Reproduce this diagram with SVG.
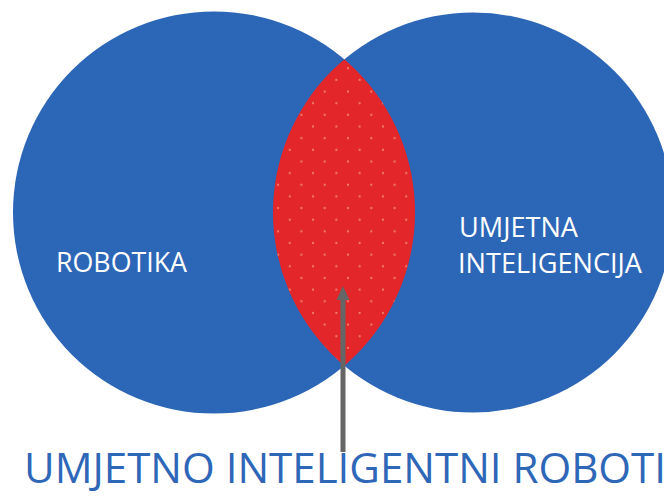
<svg xmlns="http://www.w3.org/2000/svg" width="664" height="497" viewBox="0 0 664 497">
  <style>
    .set { fill: #2c66b6; }
    .lbl { font-family: "Open Sans", "Liberation Sans", sans-serif; font-size: 28px; fill: #ffffff; }
    .title { font-family: "Open Sans", "Liberation Sans", sans-serif; font-size: 42px; fill: #2e67b8; }
    .conn { stroke: #666666; stroke-width: 5; fill: none; }
  </style>
  <defs>
    <pattern id="dots" patternUnits="userSpaceOnUse" x="348" y="68.3" width="23.3" height="23.3">
      <circle cx="0" cy="0" r="1.1" fill="#f0806a"/>
      <circle cx="23.3" cy="0" r="1.1" fill="#f0806a"/>
      <circle cx="0" cy="23.3" r="1.1" fill="#f0806a"/>
      <circle cx="23.3" cy="23.3" r="1.1" fill="#f0806a"/>
      <circle cx="11.65" cy="11.65" r="1.1" fill="#f0806a"/>
    </pattern>
    <clipPath id="leftClip">
      <circle cx="214" cy="212.5" r="201"/>
    </clipPath>
  </defs>
  <rect width="664" height="497" fill="#ffffff"/>
  <g id="node-robotika">
    <circle class="set" cx="214" cy="212.5" r="201"/>
    <text class="lbl" x="56" y="272" textLength="131" lengthAdjust="spacingAndGlyphs">ROBOTIKA</text>
  </g>
  <g id="node-umjetna-inteligencija">
    <circle class="set" cx="473" cy="212.5" r="200"/>
    <text class="lbl" x="459" y="237" textLength="119" lengthAdjust="spacingAndGlyphs">UMJETNA</text>
    <text class="lbl" x="458" y="273" textLength="184" lengthAdjust="spacingAndGlyphs">INTELIGENCIJA</text>
  </g>
  <g id="node-intersection" clip-path="url(#leftClip)">
    <circle cx="473" cy="212.5" r="200" fill="#e3262a"/>
    <circle cx="473" cy="212.5" r="200" fill="url(#dots)"/>
  </g>
  <g id="connectors">
    <line class="conn" x1="343" y1="452" x2="343" y2="298"/>
    <path d="M343 286 L349.5 300 L336.5 300 Z" fill="#666666"/>
  </g>
  <g id="node-umjetno-inteligentni-roboti">
    <text class="title" x="24" y="483" textLength="642" lengthAdjust="spacingAndGlyphs">UMJETNO INTELIGENTNI ROBOTI</text>
  </g>
</svg>
